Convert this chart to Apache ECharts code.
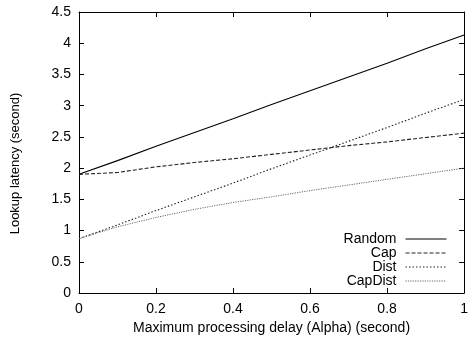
<!DOCTYPE html>
<html><head><meta charset="utf-8">
<script src="https://cdn.jsdelivr.net/npm/echarts@6/dist/echarts.min.js"></script>
<style>html,body{margin:0;padding:0;background:#fff}#c{width:471px;height:343px}</style>
</head><body><div id="c"></div>
<script>
const alpha = [0, 0.1, 0.2, 0.3, 0.4, 0.5, 0.6, 0.7, 0.8, 0.9, 1.0];
const randomLat = [1.9, 2.12, 2.35, 2.57, 2.79, 3.02, 3.24, 3.46, 3.68, 3.91, 4.13];
const capLat = [1.9, 1.93, 2.02, 2.09, 2.15, 2.22, 2.29, 2.36, 2.42, 2.49, 2.56];
const distLat = [0.87, 1.09, 1.32, 1.54, 1.76, 1.99, 2.21, 2.43, 2.65, 2.88, 3.1];
const capDistLat = [0.87, 1.06, 1.21, 1.34, 1.45, 1.54, 1.64, 1.73, 1.82, 1.91, 2.0];
const seriesNames = ['Random', 'Cap', 'Dist', 'CapDist'];
const xTicks = [0, 0.2, 0.4, 0.6, 0.8, 1];
const yTicks = [0, 0.5, 1, 1.5, 2, 2.5, 3, 3.5, 4, 4.5];

const font = 'Liberation Sans, Arial, sans-serif';
const pair = (ys) => alpha.map((x, i) => [x, ys[i]]);
const styles = [
  {color: '#000', type: 'solid', width: 1.1},
  {color: '#222', type: [4, 2], width: 1.1},
  {color: '#222', type: [1.5, 2], width: 1.1},
  {color: '#666', type: [1.2, 1.2], width: 1}
];
const dataSets = [randomLat, capLat, distLat, capDistLat];

const chart = echarts.init(document.getElementById('c'), null, {renderer: 'canvas'});
const axisCommon = () => ({
  axisLine: {show: true, onZero: false, lineStyle: {color: '#000', width: 1}},
  axisTick: {show: true, inside: true, length: 5, lineStyle: {color: '#000'}},
  splitLine: {show: false}
});
chart.setOption({
  animation: false,
  grid: {left: 79, right: 2, top: 12, bottom: 50, show: false},
  legend: {
    orient: 'vertical', right: 19, top: 227, align: 'right',
    itemWidth: 41, itemHeight: 10, itemGap: 0,
    itemStyle: {opacity: 0},
    lineStyle: {width: 1},
    textStyle: {fontFamily: font, fontSize: 14, lineHeight: 14, color: '#000', padding: [0, 4, 0, 0]},
    data: seriesNames
  },
  xAxis: [
    Object.assign(axisCommon(), {type: 'value', min: 0, max: 1, interval: 0.2, position: 'bottom',
      name: 'Maximum processing delay (Alpha) (second)', nameLocation: 'middle', nameGap: 26,
      nameTextStyle: {fontFamily: font, fontSize: 14, color: '#000'},
      axisLabel: {fontFamily: font, fontSize: 14, color: '#000', margin: 9,
        formatter: v => xTicks.includes(Math.round(v*10)/10) ? String(Math.round(v*10)/10) : ''}}),
    Object.assign(axisCommon(), {type: 'value', min: 0, max: 1, interval: 0.2, position: 'top', axisLabel: {show: false}})
  ],
  yAxis: [
    Object.assign(axisCommon(), {type: 'value', min: 0, max: 4.5, interval: 0.5, position: 'left',
      name: 'Lookup latency (second)', nameLocation: 'middle', nameGap: 57,
      nameTextStyle: {fontFamily: font, fontSize: 13, color: '#000', padding: [0, 22, 0, 0]},
      axisLabel: {fontFamily: font, fontSize: 14, color: '#000', margin: 8,
        formatter: v => yTicks.includes(Math.round(v*10)/10) ? String(Math.round(v*10)/10) : ''}}),
    Object.assign(axisCommon(), {type: 'value', min: 0, max: 4.5, interval: 0.5, position: 'right', axisLabel: {show: false}})
  ],
  series: seriesNames.map((n, i) => ({
    name: n, type: 'line', data: pair(dataSets[i]), showSymbol: false, symbol: 'none',
    lineStyle: styles[i], itemStyle: {color: styles[i].color}, z: 3
  }))
});
</script></body></html>
